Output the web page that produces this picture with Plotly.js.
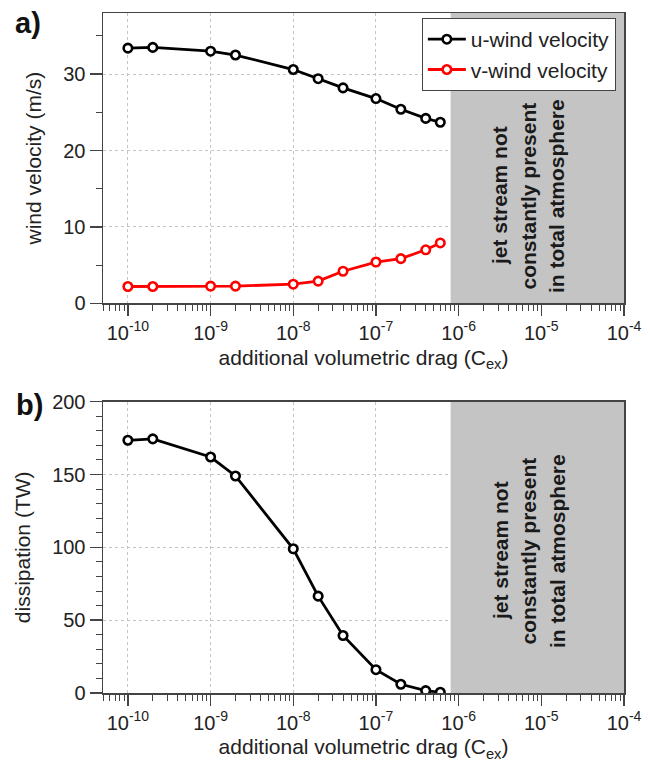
<!DOCTYPE html>
<html>
<head>
<meta charset="utf-8">
<script src="https://cdn.plot.ly/plotly-3.0.1.min.js"></script>
<style>html,body{margin:0;padding:0;background:#fff;}</style>
</head>
<body>
<div id="chart" style="width:650px;height:771px;"></div>
<script>
// ---- data ----
const cex = [1e-10, 2e-10, 1e-9, 2e-9, 1e-8, 2e-8, 4e-8, 1e-7, 2e-7, 4e-7, 6e-7];
const uWind = [33.4, 33.5, 33.0, 32.5, 30.6, 29.4, 28.2, 26.8, 25.4, 24.2, 23.7];
const vWind = [2.2, 2.2, 2.25, 2.25, 2.5, 2.9, 4.2, 5.4, 5.85, 7.0, 7.9];
const dissipation = [173.5, 174.5, 162, 149, 99, 66.5, 39.5, 16, 6, 1.6, 0.5];
const xTickVals = [1e-10, 1e-9, 1e-8, 1e-7, 1e-6, 1e-5, 1e-4];
const xTickText = ['10<sup>-10</sup>', '10<sup>-9</sup>', '10<sup>-8</sup>', '10<sup>-7</sup>', '10<sup>-6</sup>', '10<sup>-5</sup>', '10<sup>-4</sup>'];
const xRange = [5e-11, 1e-4];
const noJetStart = 8e-7;
const seriesNames = ['u-wind velocity', 'v-wind velocity'];
const noJetLines = ['jet stream not', 'constantly present', 'in total atmosphere'];

const FONT = 'Liberation Sans, Arial, Helvetica, sans-serif';
const AX = '#444';

function mk(x, y, color, name, xa, ya, showleg) {
  return {
    x: x, y: y, name: name, type: 'scatter', mode: 'lines+markers',
    xaxis: xa, yaxis: ya, showlegend: showleg,
    line: {color: color, width: 2.8},
    marker: {symbol: 'circle', size: 8.5, color: 'white', line: {color: color, width: 2.6}}
  };
}

const traces = [
  mk(cex, uWind, '#000000', seriesNames[0], 'x', 'y', true),
  mk(cex, vWind, '#ff0000', seriesNames[1], 'x', 'y', true),
  mk(cex, dissipation, '#000000', 'dissipation', 'x2', 'y2', false)
];

function xax(anchor) {
  return {
    anchor: anchor, type: 'log', domain: [0, 1],
    range: [Math.log10(xRange[0]), Math.log10(xRange[1])],
    tickmode: 'array', tickvals: xTickVals, ticktext: xTickText,
    ticks: 'outside', ticklen: 11, tickwidth: 1.5, tickcolor: AX,
    showline: true, linecolor: AX, linewidth: 1.5, mirror: true,
    showgrid: true, gridcolor: '#c4c4c4', griddash: 'dot', gridwidth: 1,
    zeroline: false,
    minor: {ticks: 'outside', ticklen: 6, dtick: 'D1', tickcolor: AX, tickwidth: 1, showgrid: false},
    tickfont: {size: 20, color: '#222'},
    title: {text: 'additional volumetric drag (C<sub>ex</sub>)', font: {size: 21, color: '#222'}, standoff: 7}
  };
}
function yax(anchor, domain, range, dtick, minorD, title) {
  return {
    anchor: anchor, domain: domain, range: range, dtick: dtick, tick0: 0,
    ticks: 'outside', ticklen: 12, tickwidth: 1.5, tickcolor: AX,
    showline: true, linecolor: AX, linewidth: 1.5, mirror: true,
    showgrid: true, gridcolor: '#c4c4c4', griddash: 'dot', gridwidth: 1,
    zeroline: false,
    minor: {ticks: 'outside', ticklen: 6, dtick: minorD, tickcolor: AX, tickwidth: 1, showgrid: false},
    tickfont: {size: 20, color: '#222'},
    title: {text: title, font: {size: 21, color: '#222'}, standoff: 16}
  };
}

const lineX = [0.762, 0.8167, 0.8714];
const panelTextY = [0.7309, 0.2088];
const annotations = [];
panelTextY.forEach(function (py) {
  noJetLines.forEach(function (t, i) {
    annotations.push({text: t, xref: 'paper', yref: 'paper', x: lineX[i], y: py, showarrow: false,
      xanchor: 'center', yanchor: 'middle', textangle: -90,
      font: {size: 21, color: '#1a1a1a', family: FONT, weight: 'bold'}});
  });
});
annotations.push({text: '<b>a)</b>', xref: 'paper', yref: 'paper', x: -0.144, y: 0.985, showarrow: false,
  xanchor: 'center', yanchor: 'middle', font: {size: 29, color: '#111'}});
annotations.push({text: '<b>b)</b>', xref: 'paper', yref: 'paper', x: -0.142, y: 0.4235, showarrow: false,
  xanchor: 'center', yanchor: 'middle', font: {size: 29, color: '#111'}});

const layout = {
  width: 650, height: 771,
  margin: {l: 103, r: 26, t: 13, b: 78},
  paper_bgcolor: 'white', plot_bgcolor: 'white',
  font: {family: FONT, size: 20, color: '#222'},
  xaxis: xax('y'),
  yaxis: yax('x', [0.5731, 1], [0, 38], 10, 5, 'wind velocity (m/s)'),
  xaxis2: xax('y2'),
  yaxis2: yax('x2', [0, 0.4284], [0, 200], 50, 10, 'dissipation (TW)'),
  legend: {
    x: 0.612, y: 0.9926, xanchor: 'left', yanchor: 'top',
    bgcolor: 'white', bordercolor: AX, borderwidth: 1,
    itemwidth: 38,
    font: {size: 21, color: '#222'}
  },
  shapes: [
    {type: 'rect', xref: 'x', yref: 'y domain', x0: noJetStart, x1: xRange[1], y0: 0, y1: 1,
     fillcolor: '#c4c4c4', line: {width: 0}, layer: 'below'},
    {type: 'rect', xref: 'x2', yref: 'y2 domain', x0: noJetStart, x1: xRange[1], y0: 0, y1: 1,
     fillcolor: '#c4c4c4', line: {width: 0}, layer: 'below'}
  ],
  annotations: annotations
};

Plotly.newPlot('chart', traces, layout, {displayModeBar: false, staticPlot: true});
</script>
</body>
</html>
